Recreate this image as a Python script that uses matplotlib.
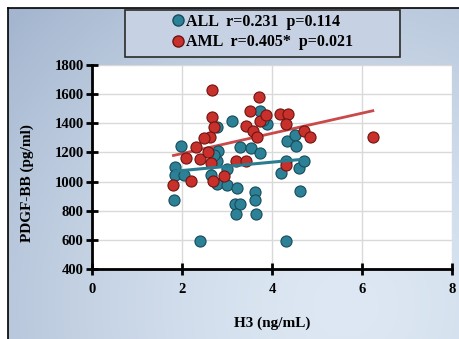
import numpy as np
import matplotlib
matplotlib.use("Agg")
import matplotlib.pyplot as plt
from matplotlib.lines import Line2D
from matplotlib.patches import Rectangle

# ---- data ----
all_x = [1.97, 1.84, 1.84, 2.04, 1.82, 2.41, 2.81, 2.77, 2.77, 3.10, 3.29, 3.53, 3.73,
         2.64, 2.77, 2.99, 3.01, 3.23, 3.18, 3.29, 3.19, 3.62, 3.62, 3.64, 3.73, 3.88,
         4.20, 4.30, 4.30, 4.33, 4.51, 4.53, 4.60, 4.72, 4.62, 2.70, 3.80]
all_y = [1247, 1099, 1042, 1042, 876, 591, 1213, 1144, 1372, 1418, 1240, 1231, 1194,
         1042, 985, 1088, 974, 955, 849, 849, 780, 928, 871, 780, 1486, 1395,
         1058, 1144, 591, 1281, 1322, 1247, 1094, 1144, 935, 1180, 1420]
aml_x = [2.66, 2.66, 2.70, 2.62, 2.49, 2.31, 2.09, 2.41, 2.57, 2.64, 2.69, 2.94, 2.21,
         1.81, 3.19, 3.42, 3.42, 3.51, 3.57, 3.67, 3.72, 3.73, 3.87, 4.18, 4.35, 4.30,
         4.30, 4.72, 4.84, 6.25]
aml_y = [1629, 1440, 1377, 1308, 1299, 1240, 1163, 1156, 1201, 1126, 1003, 1035, 1003,
         974, 1144, 1144, 1383, 1486, 1349, 1304, 1581, 1418, 1457, 1463, 1463, 1395,
         1117, 1349, 1304, 1308]
all_fit_x = [1.84, 4.62]
all_fit_y = [1071, 1151]
aml_fit_x = [1.81, 6.24]
aml_fit_y = [1179, 1486]
xticks = [0, 2, 4, 6, 8]
yticks = [400, 600, 800, 1000, 1200, 1400, 1600, 1800]
legend_labels = ["ALL  r=0.231  p=0.114", "AML  r=0.405*  p=0.021"]

W, H = 459, 339
fig = plt.figure(figsize=(W / 100, H / 100), dpi=100)
fig.patch.set_facecolor("white")

# gradient background
bg = fig.add_axes([8 / W, 0, 1 - 8 / W, 1 - 8 / H])
yy, xx = np.mgrid[0:1:200j, 0:1:300j]
r = np.sqrt(((xx - 0.75) / 1.0) ** 2 + ((yy - 0.1) / 1.3) ** 2)
r = np.clip(r, 0, 1) ** 1.5
c0 = np.array([0xde, 0xe8, 0xf4]) / 255
c1 = np.array([0xa4, 0xb6, 0xcf]) / 255
img = c0[None, None, :] * (1 - r[..., None]) + c1[None, None, :] * r[..., None]
bg.imshow(img, aspect="auto", extent=[0, 1, 0, 1], origin="lower")
bg.set_xlim(0, 1); bg.set_ylim(0, 1)
bg.set_xticks([]); bg.set_yticks([])
for s in ["right", "bottom"]:
    bg.spines[s].set_visible(False)
for s in ["left", "top"]:
    bg.spines[s].set_color("black")
    bg.spines[s].set_linewidth(1.2)

ax = fig.add_axes([92 / W, 1 - 269 / H, (452 - 92) / W, (269 - 65) / H])
ax.set_facecolor("white")
ax.set_xlim(0, 8)
ax.set_ylim(400, 1800)
ax.set_xticks(xticks)
ax.set_yticks(yticks)
ax.grid(True, color="#d9d9d9", linewidth=1.0)
ax.set_axisbelow(True)
for s in ["top", "right"]:
    ax.spines[s].set_visible(False)
for s in ["left", "bottom"]:
    ax.spines[s].set_linewidth(2.0)
    ax.spines[s].set_color("black")
ax.tick_params(direction="inout", length=8, width=2.0, color="black", pad=2)

font = {"family": "Liberation Serif", "weight": "bold"}
for lab in ax.get_xticklabels() + ax.get_yticklabels():
    lab.set_fontfamily("Liberation Serif")
    lab.set_fontweight("bold")
    lab.set_fontsize(10.5)
ax.tick_params(axis="x", pad=6)

teal, teal_e = "#2d8196", "#174c5a"
red, red_e = "#c8302c", "#6e1512"

ax.scatter(all_x, all_y, s=64, c=teal, edgecolors=teal_e, linewidths=0.8, zorder=3)
ax.scatter(aml_x, aml_y, s=64, c=red, edgecolors=red_e, linewidths=0.8, zorder=3)
ax.plot(all_fit_x, all_fit_y, color="#2a7d90", lw=2.2, zorder=4)
ax.plot(aml_fit_x, aml_fit_y, color="#c84a4a", lw=2.0, zorder=2.5)

fig.text(272 / W, 1 - 323 / H, "H3 (ng/mL)", ha="center", va="center",
         fontsize=11, **font)
fig.text(27 / W, 1 - 183 / H, "PDGF-BB (pg/ml)", ha="center", va="center",
         rotation=90, fontsize=11, **font)

# legend box
box = Rectangle((125 / W, 1 - 57 / H), 275 / W, 47 / H, transform=fig.transFigure,
                facecolor="#c6d2e3", edgecolor="#2a2a2a", linewidth=1.2, zorder=5)
fig.patches.append(box)

handles = [Line2D([], [], marker="o", ls="none", markersize=8, markerfacecolor=teal,
                  markeredgecolor=teal_e),
           Line2D([], [], marker="o", ls="none", markersize=8, markerfacecolor=red,
                  markeredgecolor=red_e)]
leg = fig.legend(handles, legend_labels, loc="center", bbox_to_anchor=(262 / W, 1 - 32 / H),
                 prop={"family": "Liberation Serif", "weight": "bold", "size": 11.5},
                 frameon=False, handletextpad=0.0, handlelength=1.0,
                 borderpad=0.2, labelspacing=0.3, borderaxespad=0)
leg.set_zorder(6)

fig.savefig("out.png", dpi=100)
